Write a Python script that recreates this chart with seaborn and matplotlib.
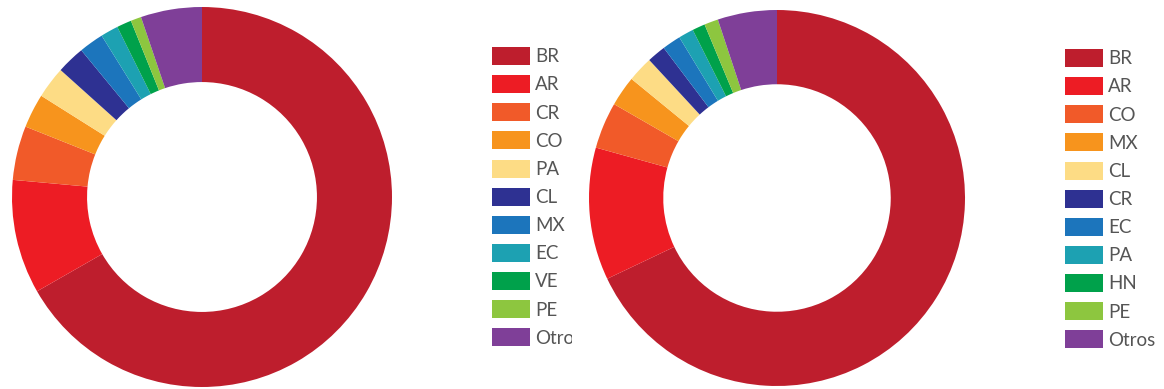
import matplotlib
matplotlib.use("Agg")
import matplotlib.pyplot as plt
import matplotlib.transforms as mtransforms
import seaborn as sns

sns.set_theme(style="white")
plt.rcParams['font.family'] = ['Lato', 'DejaVu Sans']

# Left donut
labels_1 = ["BR", "AR", "CR", "CO", "PA", "CL", "MX", "EC", "VE", "PE", "Otros"]
values_1 = [66.7, 9.7, 4.6, 2.9, 2.7, 2.4, 2.1, 1.5, 1.25, 0.9, 5.2]

# Right donut
labels_2 = ["BR", "AR", "CO", "MX", "CL", "CR", "EC", "PA", "HN", "PE", "Otros"]
values_2 = [68.0, 11.4, 4.0, 2.6, 2.2, 1.6, 1.6, 1.3, 1.1, 1.2, 5.1]

colors = ["#BE1E2D", "#ED1C24", "#F15A29", "#F7941D", "#FDDC85", "#2E3192",
          "#1C75BC", "#1DA1B2", "#00A14B", "#8DC63F", "#7F3F98"]

W, H = 1164, 389
fig = plt.figure(figsize=(W / 100, H / 100), dpi=100)
fig.patch.set_facecolor("white")


def add_donut(cx, cy, r, labels, values, leg_x, leg_y, clip_x=None):
    ax = fig.add_axes([(cx - r) / W, (H - cy - r) / H, 2 * r / W, 2 * r / H])
    wedges, _ = ax.pie(values, colors=colors, startangle=90, counterclock=False,
                       radius=1.0, wedgeprops=dict(width=0.395, linewidth=0))
    ax.set_xlim(-1, 1)
    ax.set_ylim(-1, 1)
    ax.set_aspect("equal")
    ax.axis("off")
    leg = fig.legend(wedges, labels, loc="upper left",
                     bbox_to_anchor=(leg_x / W, 1 - leg_y / H),
                     frameon=False, fontsize=13.5, handlelength=2.0,
                     handleheight=1.1, handletextpad=0.3, labelspacing=0.52,
                     borderpad=0, borderaxespad=0, labelcolor="#555555")
    if clip_x is not None:
        clip = mtransforms.TransformedBbox(
            mtransforms.Bbox([[0, 0], [clip_x / W, 1]]), fig.transFigure)
        for t in leg.get_texts():
            t.set_clip_box(clip)
            t.set_clip_on(True)
    return ax


add_donut(202, 197, 190, labels_1, values_1, 492, 47, clip_x=572)
add_donut(777, 198, 188, labels_2, values_2, 1065, 49)

fig.savefig("out.png", dpi=100, facecolor="white")
